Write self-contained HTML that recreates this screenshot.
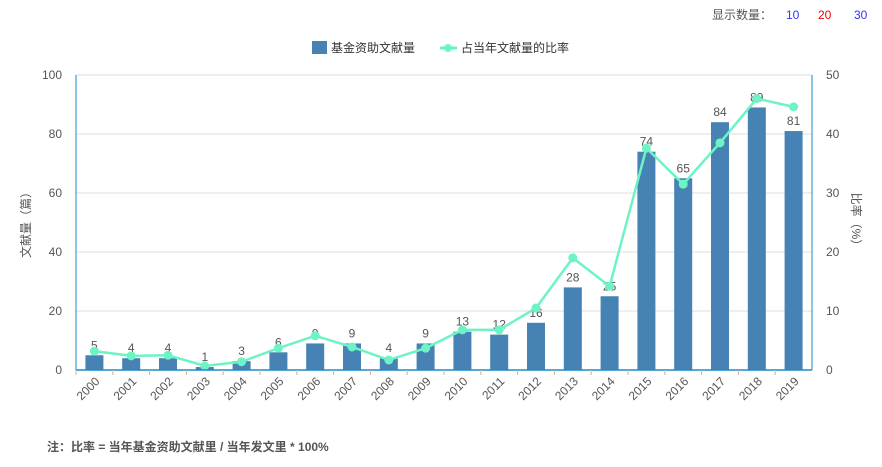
<!DOCTYPE html>
<html><head><meta charset="utf-8"><style>
body{margin:0;background:#fff;font-family:"Liberation Sans","Noto Sans CJK SC",sans-serif;}
svg text{font-family:"Liberation Sans","Noto Sans CJK SC",sans-serif;}
</style></head><body>
<svg width="882" height="462">
<g>
<text x="712" y="19" font-size="12" fill="#555">显示数量：</text>
<text x="786" y="19" font-size="12" fill="#3333ff">10</text>
<text x="818" y="19" font-size="12" fill="#ff0000">20</text>
<text x="854" y="19" font-size="12" fill="#3333ff">30</text>
</g>
<g>
<rect x="312" y="41" width="15" height="13" fill="#4682b4"/>
<text x="331" y="52" font-size="12" fill="#333">基金资助文献量</text>
<line x1="440" y1="48" x2="457" y2="48" stroke="#6ef3c5" stroke-width="3"/>
<circle cx="448" cy="48" r="4" fill="#6ef3c5"/>
<text x="461" y="52" font-size="12" fill="#333">占当年文献量的比率</text>
</g>
<g id="grid"></g><g id="bars"></g><g id="line"></g><g id="axes"></g>
<text x="0" y="0" font-size="12" fill="#555" transform="translate(30,222) rotate(-90)" text-anchor="middle">文献量（篇）</text>
<text x="0" y="0" font-size="12" fill="#555" transform="translate(852,222) rotate(90)" text-anchor="middle">比率（%）</text>
<text x="47" y="451" font-size="12" font-weight="bold" fill="#555">注：比率 = 当年基金资助文献里 / 当年发文里 * 100%</text>
</svg>
<script>
const years=["2000","2001","2002","2003","2004","2005","2006","2007","2008","2009","2010","2011","2012","2013","2014","2015","2016","2017","2018","2019"];
const counts=[5,4,4,1,3,6,9,9,4,9,13,12,16,28,25,74,65,84,89,81];
const ratios=[3.2,2.4,2.5,0.7,1.4,3.7,5.8,3.9,1.7,3.7,6.8,6.8,10.5,19,14.2,37.6,31.5,38.5,46,44.6];
const leftTicks=[0,20,40,60,80,100];
const rightTicks=[0,10,20,30,40,50];
const X0=76,X1=812,Y0=370,Y1=75;
const bw=(X1-X0)/years.length;
const xC=i=>X0+bw*(i+0.5);
const yL=v=>Y0-(v/100)*(Y0-Y1);
const yR=v=>Y0-(v/50)*(Y0-Y1);
const NS="http://www.w3.org/2000/svg";
function mk(p,t,a){const e=document.createElementNS(NS,t);for(const k in a)e.setAttribute(k,a[k]);document.getElementById(p).appendChild(e);return e;}
leftTicks.forEach((v,i)=>{
 if(v>0){const g=mk('grid','line',{x1:X0,x2:X1,y1:yL(v),y2:yL(v),stroke:'#ddd'});
 
 }
 const t=mk('axes','text',{x:X0-14,y:yL(v)+4,'text-anchor':'end','font-size':12,fill:'#555'});t.textContent=v;
 
 
 const r=mk('axes','text',{x:X1+14,y:yR(rightTicks[i])+4,'font-size':12,fill:'#555'});r.textContent=rightTicks[i];
 
 
});
mk('axes','line',{x1:X0,x2:X0,y1:Y1,y2:Y0,stroke:'#1a8bc8'});
mk('axes','line',{x1:X1,x2:X1,y1:Y1,y2:Y0,stroke:'#1a8bc8'});
mk('axes','line',{x1:X0,x2:X1,y1:Y0,y2:Y0,stroke:'#1a8bc8','stroke-width':1.5});
years.forEach((y,i)=>{
 const b=mk('bars','rect',{x:xC(i)-9,y:yL(counts[i]),width:18,height:Y0-yL(counts[i]),fill:'#4682b4'});
 
 
 const l=mk('line','text',{x:xC(i),y:yL(counts[i])-6,'text-anchor':'middle','font-size':12,fill:'#555'});l.textContent=counts[i];
 
 
 const tk=mk('axes','line',{x1:X0+bw*i,x2:X0+bw*i,y1:Y0,y2:Y0+5,stroke:'#bbb'});
 const tx=mk('axes','text',{x:0,y:0,'font-size':12,fill:'#555','text-anchor':'end',transform:`translate(${xC(i)+6},${Y0+12}) rotate(-45)`});tx.textContent=y;
 
 
});
const pl=mk('line','polyline',{points:ratios.map((v,i)=>xC(i)+','+yR(v)).join(' '),fill:'none',stroke:'#6ef3c5','stroke-width':2.5});


ratios.forEach((v,i)=>{const c=mk('line','circle',{cx:xC(i),cy:yR(v),r:4.5,fill:'#6ef3c5'});
 
 });
</script>
</body></html>
